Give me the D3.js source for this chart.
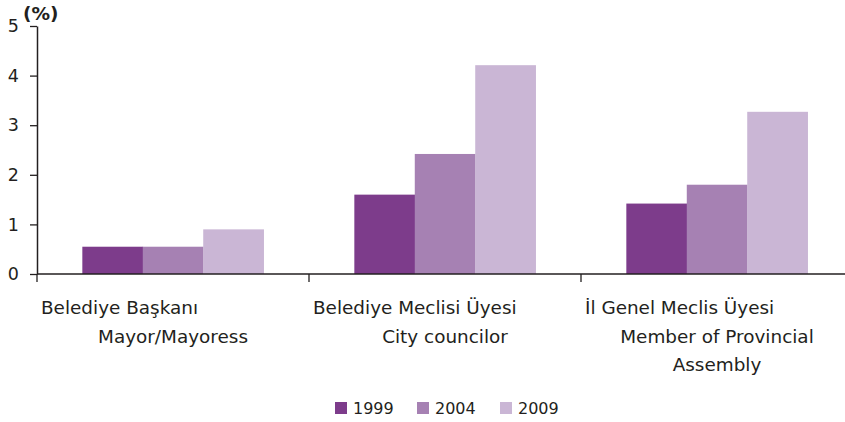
<!DOCTYPE html>
<html>
<head>
<meta charset="utf-8">
<script src="https://cdn.jsdelivr.net/npm/d3@7"></script>
<style>
  body { margin: 0; background: #fff; }
  svg { display: block; font-family: "DejaVu Sans", Verdana, sans-serif; }
</style>
</head>
<body>
<svg id="chart" width="845" height="422"></svg>
<script>
// data
const categories = ["Belediye Başkanı", "Belediye Meclisi Üyesi", "İl Genel Meclis Üyesi"];
const labelLines = [
    ["Belediye Başkanı", "Mayor/Mayoress"],
    ["Belediye Meclisi Üyesi", "City councilor"],
    ["İl Genel Meclis Üyesi", "Member of Provincial", "Assembly"]
];
const years = ["1999", "2004", "2009"];
const v1999 = [0.55, 1.60, 1.42];
const v2004 = [0.55, 2.42, 1.80];
const v2009 = [0.90, 4.21, 3.27];
const yTicks = [0, 1, 2, 3, 4, 5];
const colors = ["#7d3c8b", "#a681b3", "#cab6d5"];

const series = [v1999, v2004, v2009];
const ink = "#231f20";

var svg = d3.select("#chart");

var x = d3.scaleBand().domain(categories).range([37, 853]).paddingInner(0).paddingOuter(0);
var xi = d3.scaleBand().domain(years).range([0, x.bandwidth()]).paddingInner(0).paddingOuter(0.75);
var y = d3.scaleLinear().domain([0, 5]).range([274, 26]);

// bars
years.forEach(function (yr, i) {
    svg.append("g")
        .attr("fill", colors[i])
        .selectAll("rect")
        .data(categories)
        .join("rect")
        .attr("x", c => x(c) + xi(yr))
        .attr("width", xi.bandwidth() + 0.3)
        .attr("y", (c, j) => y(series[i][j]))
        .attr("height", (c, j) => y(0) - y(series[i][j]));
});

// y axis
var yAxis = svg.append("g")
    .attr("transform", "translate(37,0)")
    .call(d3.axisLeft(y).tickValues(yTicks).tickFormat(d3.format("d"))
        .tickSize(7).tickPadding(11).tickSizeOuter(0));
yAxis.select(".domain").attr("stroke", ink).attr("stroke-width", 1.5);
yAxis.selectAll(".tick line").attr("stroke", ink).attr("stroke-width", 1.3);
yAxis.selectAll(".tick text").attr("fill", ink).attr("font-size", 17.5)
    .attr("font-family", "DejaVu Sans, Verdana, sans-serif");

svg.append("text")
    .attr("x", 23).attr("y", 20)
    .attr("font-size", 18.5).attr("font-weight", "bold").attr("fill", ink)
    .text("(%)");

// x axis: category boundaries get the tick marks
var xAxis = svg.append("g").attr("transform", "translate(0,274)");
xAxis.append("line")
    .attr("x1", 37).attr("x2", 853)
    .attr("stroke", ink).attr("stroke-width", 1.5);
xAxis.selectAll(".cat-tick")
    .data(categories)
    .join("line")
    .attr("class", "cat-tick")
    .attr("x1", c => x(c)).attr("x2", c => x(c))
    .attr("y1", 0).attr("y2", 8)
    .attr("stroke", ink).attr("stroke-width", 1.3);

// category labels
categories.forEach(function (c, i) {
    var g = svg.append("g").attr("fill", ink).attr("font-size", 18.4);
    labelLines[i].forEach(function (line, k) {
        g.append("text")
            .attr("x", k == 0 ? x(c) + 4 : x(c) + x.bandwidth() / 2)
            .attr("y", 314 + k * 28.5)
            .attr("text-anchor", k == 0 ? "start" : "middle")
            .text(line);
    });
});

// legend
var legendX = [335, 417, 500];
var legend = svg.append("g");
years.forEach(function (yr, i) {
    legend.append("rect")
        .attr("x", legendX[i]).attr("y", 402)
        .attr("width", 12).attr("height", 12)
        .attr("fill", colors[i]);
    legend.append("text")
        .attr("x", legendX[i] + 18).attr("y", 413.5)
        .attr("font-size", 16).attr("fill", ink)
        .text(yr);
});
</script>
</body>
</html>
